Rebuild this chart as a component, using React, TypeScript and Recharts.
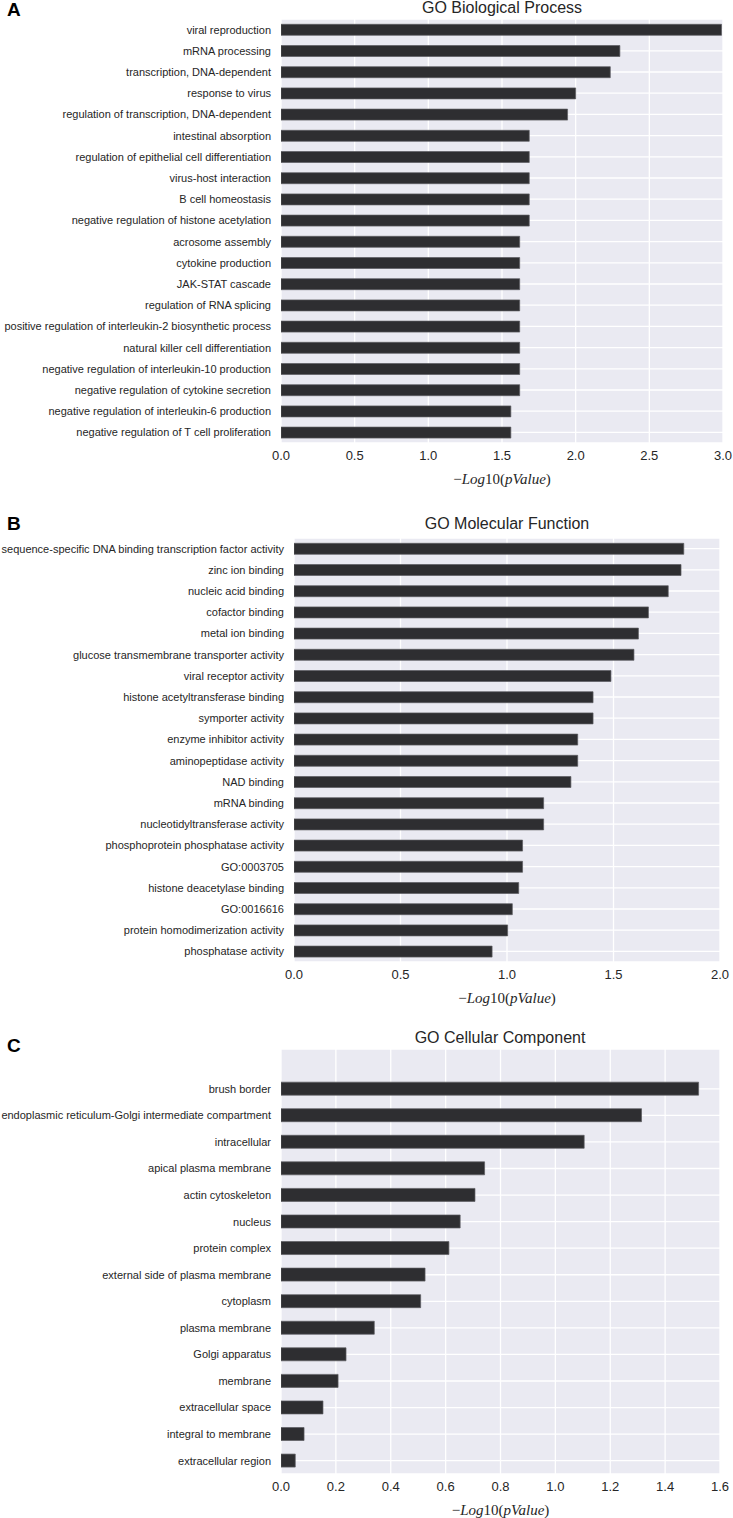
import React from "react";
import { Bar, BarChart, CartesianGrid, XAxis, YAxis } from "recharts";

const FONT = '"Liberation Sans", Arial, Helvetica, sans-serif';
const SERIF = '"Liberation Serif", "DejaVu Serif", serif';
const TEXT = "#262626";
const PANEL_BG = "#EAEAF2";
const BAR_FILL = "#2e2e31";
const BAR_EDGE = "#5c5c61";

// GO Biological Process
const bpTerms = [
  "viral reproduction",
  "mRNA processing",
  "transcription, DNA-dependent",
  "response to virus",
  "regulation of transcription, DNA-dependent",
  "intestinal absorption",
  "regulation of epithelial cell differentiation",
  "virus-host interaction",
  "B cell homeostasis",
  "negative regulation of histone acetylation",
  "acrosome assembly",
  "cytokine production",
  "JAK-STAT cascade",
  "regulation of RNA splicing",
  "positive regulation of interleukin-2 biosynthetic process",
  "natural killer cell differentiation",
  "negative regulation of interleukin-10 production",
  "negative regulation of cytokine secretion",
  "negative regulation of interleukin-6 production",
  "negative regulation of T cell proliferation",
];
const bpValues = [
  2.99, 2.3, 2.235, 2.0, 1.945, 1.685, 1.685, 1.685, 1.685, 1.685, 1.62, 1.62, 1.62, 1.62, 1.62, 1.62, 1.62,
  1.62, 1.56, 1.56,
];
const bpTicks = [0, 0.5, 1.0, 1.5, 2.0, 2.5, 3.0];

// GO Molecular Function
const mfTerms = [
  "sequence-specific DNA binding transcription factor activity",
  "zinc ion binding",
  "nucleic acid binding",
  "cofactor binding",
  "metal ion binding",
  "glucose transmembrane transporter activity",
  "viral receptor activity",
  "histone acetyltransferase binding",
  "symporter activity",
  "enzyme inhibitor activity",
  "aminopeptidase activity",
  "NAD binding",
  "mRNA binding",
  "nucleotidyltransferase activity",
  "phosphoprotein phosphatase activity",
  "GO:0003705",
  "histone deacetylase binding",
  "GO:0016616",
  "protein homodimerization activity",
  "phosphatase activity",
];
const mfValues = [
  1.83, 1.817, 1.757, 1.664, 1.617, 1.596, 1.488, 1.404, 1.404, 1.332, 1.332, 1.3, 1.172, 1.172, 1.073, 1.073,
  1.055, 1.025, 1.003, 0.93,
];
const mfTicks = [0, 0.5, 1.0, 1.5, 2.0];

// GO Cellular Component
const ccTerms = [
  "brush border",
  "endoplasmic reticulum-Golgi intermediate compartment",
  "intracellular",
  "apical plasma membrane",
  "actin cytoskeleton",
  "nucleus",
  "protein complex",
  "external side of plasma membrane",
  "cytoplasm",
  "plasma membrane",
  "Golgi apparatus",
  "membrane",
  "extracellular space",
  "integral to membrane",
  "extracellular region",
];
const ccValues = [
  1.522, 1.314, 1.105, 0.742, 0.707, 0.653, 0.612, 0.525, 0.509, 0.34, 0.237, 0.208, 0.153, 0.084, 0.052,
];
const ccTicks = [0, 0.2, 0.4, 0.6, 0.8, 1.0, 1.2, 1.4, 1.6];

function XLabel(props: any) {
  const vb = props.viewBox || {};
  const cx = vb.x + vb.width / 2;
  const y = vb.y + 41;
  return (
    <text x={cx} y={y} textAnchor="middle" fontFamily={SERIF} fontSize={15} fill={TEXT}>
      <tspan>−</tspan>
      <tspan fontStyle="italic">Log</tspan>
      <tspan>10(</tspan>
      <tspan fontStyle="italic">pValue</tspan>
      <tspan>)</tspan>
    </text>
  );
}

// single-line category label (recharts would wrap long ones)
function TermTick(props: any) {
  const { x, y, payload } = props;
  return (
    <text x={x} y={y} dy="0.355em" textAnchor="end" fontFamily={FONT} fontSize={11} fill={TEXT}>
      {payload.value}
    </text>
  );
}

function GoPanel({
  terms,
  values,
  ticks,
  top,
  height,
  yWidth,
  right,
  padTop = 0,
}: {
  terms: string[];
  values: number[];
  ticks: number[];
  top: number;
  height: number;
  yWidth: number;
  right: number;
  padTop?: number;
}) {
  const rows = terms.map((t, i) => ({ term: t, value: values[i] }));
  return (
    <div style={{ position: "absolute", left: 0, top, width: 733, height }}>
      <BarChart
        width={733}
        height={height}
        data={rows}
        layout="vertical"
        margin={{ top: 19, right, bottom: 12, left: 0 }}
        barCategoryGap="25%"
        style={{ overflow: "visible" }}
      >
        <CartesianGrid fill={PANEL_BG} fillOpacity={1} stroke="#ffffff" strokeWidth={1.3} />
        <XAxis
          type="number"
          dataKey="value"
          domain={[0, ticks[ticks.length - 1]]}
          ticks={ticks}
          interval={0}
          allowDataOverflow
          tickFormatter={(v: number) => v.toFixed(1)}
          axisLine={false}
          tickLine={false}
          tickSize={0}
          tickMargin={8}
          height={45}
          tick={{ fill: TEXT, fontSize: 13, fontFamily: FONT }}
          label={<XLabel />}
        />
        <YAxis
          type="category"
          dataKey="term"
          width={yWidth}
          interval={0}
          axisLine={false}
          tickLine={false}
          tickSize={0}
          tickMargin={10}
          padding={{ top: padTop, bottom: 0 }}
          tick={<TermTick />}
        />
        <Bar dataKey="value" fill={BAR_FILL} stroke={BAR_EDGE} strokeWidth={0.7} isAnimationActive={false} />
      </BarChart>
    </div>
  );
}

export default function App() {
  return (
    <div style={{ position: "relative", width: 733, height: 1518, background: "#fff", fontFamily: FONT }}>
      <style>{"body{margin:0}"}</style>
      <GoPanel terms={bpTerms} values={bpValues} ticks={bpTicks} top={0} height={500} yWidth={281} right={10} />
      <GoPanel terms={mfTerms} values={mfValues} ticks={mfTicks} top={519} height={500} yWidth={294} right={13} />
      <GoPanel
        terms={ccTerms}
        values={ccValues}
        ticks={ccTicks}
        top={1030}
        height={501}
        yWidth={281}
        right={13}
        padTop={26.5}
      />
      <svg
        width={733}
        height={1518}
        style={{ position: "absolute", left: 0, top: 0, pointerEvents: "none" }}
      >
        <g fontFamily={FONT} fill="#000" fontWeight="bold" fontSize={19}>
          <text x={7} y={16}>A</text>
          <text x={7} y={530}>B</text>
          <text x={7} y={1052}>C</text>
        </g>
        <g fontFamily={FONT} fill={TEXT} fontSize={16} textAnchor="middle">
          <text x={502} y={13}>GO Biological Process</text>
          <text x={507} y={529}>GO Molecular Function</text>
          <text x={500} y={1043}>GO Cellular Component</text>
        </g>
      </svg>
    </div>
  );
}
